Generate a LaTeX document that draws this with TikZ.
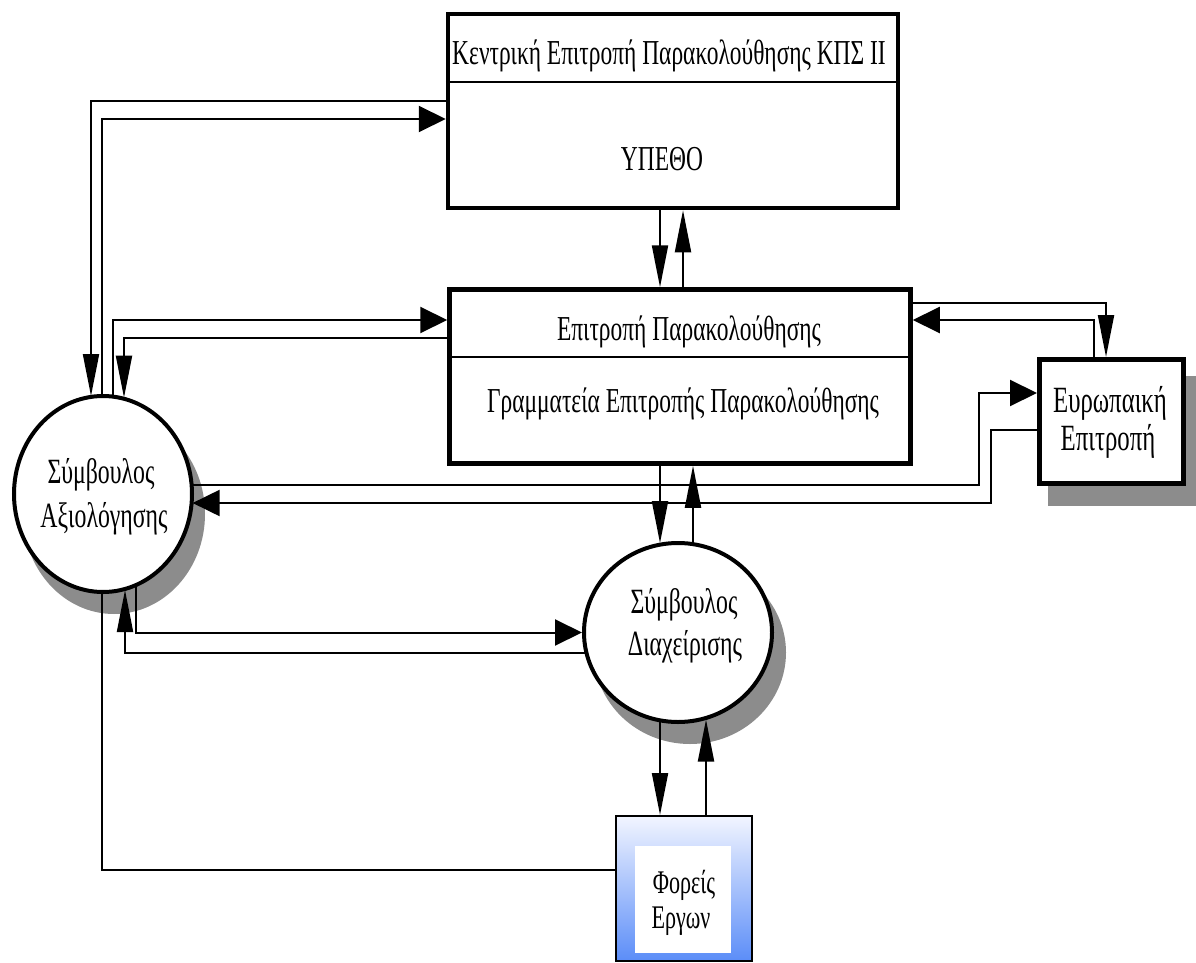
\documentclass[tikz,border=0pt]{standalone}
\usepackage{fontspec}
\newfontfamily\cf[FakeStretch=0.67]{Liberation Serif}
\usetikzlibrary{arrows.meta,shapes.geometric,calc}
\definecolor{shadowgray}{HTML}{8C8C8C}
\definecolor{blueA}{HTML}{F2F5FF}
\definecolor{blueB}{HTML}{5B8DF8}
\begin{document}
\begin{tikzpicture}[x=1pt,y=-1pt,
  conn/.style={line width=2pt},
  harr/.style={-{Triangle[length=27pt,width=26pt]}},
  varr/.style={-{Triangle[length=42pt,width=16pt]}},
  box/.style={draw, rectangle, line width=4.5pt, fill=white, inner sep=0pt},
  oval/.style={draw, ellipse, line width=4pt, fill=white, inner sep=0pt},
  shadeov/.style={ellipse, fill=shadowgray, inner sep=0pt},
  lbl/.style={anchor=base, inner sep=0pt, font=\cf\fontsize{35}{40}\selectfont},
  lblc/.style={anchor=base, inner sep=0pt, font=\cf\fontsize{35.5}{40}\selectfont},
  lble/.style={anchor=base, inner sep=0pt, font=\cf\fontsize{37}{42}\selectfont},
  lblf/.style={anchor=base, inner sep=0pt, font=\cf\fontsize{33}{38}\selectfont},
]
\useasboundingbox (0,0) rectangle (1196,963);

% shadows
\node[shadeov, minimum width=182pt, minimum height=200pt] (sash) at (114,514) {};
\node[shadeov, minimum width=192pt, minimum height=183pt] (sdsh) at (690,652.5) {};
\node[fill=shadowgray, rectangle, inner sep=0pt, minimum width=148pt, minimum height=130pt] (eesh) at (1122,441) {};

% boxes
\node[box, minimum width=450pt, minimum height=194pt] (cep) at (673,111) {};
\node[box, minimum width=461pt, minimum height=174pt] (ep) at (680,376.5) {};
\node[box, line width=5pt, minimum width=144pt, minimum height=124pt] (ee) at (1111.5,421.5) {};
\node[oval, minimum width=178pt, minimum height=196pt] (sa) at (103,494) {};
\node[oval, minimum width=188pt, minimum height=179pt] (sd) at (678,632.5) {};
\node[draw, rectangle, line width=2pt, top color=blueA, bottom color=blueB,
      minimum width=136pt, minimum height=145pt, inner sep=0pt] (fe) at (684,888.5) {};
\node[fill=white, rectangle, minimum width=96pt, minimum height=107pt, inner sep=0pt] (fein) at (683,899.5) {};

% dividers
\draw[line width=2pt] (cep.west |- 0,82) -- (cep.east |- 0,82);
\draw[line width=2pt] (ep.west |- 0,357) -- (ep.east |- 0,357);

% connectors
\draw[conn,varr] (cep.west |- 0,101) -| ($(sa.center)+(-12,-98)$);
\draw[conn,harr] ($(sa.center)+(-1,-99)$) |- (cep.west |- 0,119);
\draw[conn,harr] ($(sa.center)+(10,-98.4)$) |- (ep.west |- 0,320);
\draw[conn,varr] (ep.west |- 0,338) -| ($(sa.center)+(21,-96.3)$);
\draw[conn,varr] (cep.south -| 660,0) -- (ep.north -| 660,0);
\draw[conn,varr] (ep.north -| 683,0) -- (cep.south -| 683,0);
\draw[conn,varr] (ep.south -| 660,0) -- ($(sd.center)+(-18,-89.4)$);
\draw[conn,varr] ($(sd.center)+(15,-90)$) -- (ep.south -| 693,0);
\draw[conn,varr] (ep.east |- 0,303) -| (ee.north -| 1106,0);
\draw[conn,harr] (ee.north -| 1094,0) |- (ep.east |- 0,320);
\draw[conn,harr] ($(sa.center)+(89.6,-9)$) -- (979,485) -- (979,393) -- (ee.west |- 0,393);
\draw[conn,harr] (ee.west |- 0,430) -- (991,430) -- (991,503) -- ($(sa.center)+(89.6,9)$);
\draw[conn,harr] ($(sa.center)+(33,92)$) |- (sd.west);
\draw[conn,varr] ($(sd.center)+(-92.7,20)$) -| ($(sa.center)+(22,96)$);
\draw[conn] ($(sa.center)+(-1,99)$) |- (fe.west |- 0,870);
\draw[conn,varr] ($(sd.center)+(-18,89.4)$) -- (fe.north -| 660,0);
\draw[conn,varr] (fe.north -| 706,0) -- ($(sd.center)+(28,87)$);

% texts
\node[lbl] (cept1) at (669,65) {Κεντρική Επιτροπή Παρακολούθησης ΚΠΣ ΙΙ};
\node[lbl] (cept2) at (662,170) {ΥΠΕΘΟ};
\node[lbl] (ept1) at (689,340) {Επιτροπή Παρακολούθησης};
\node[lbl] (ept2) at (683,412) {Γραμματεία Επιτροπής Παρακολούθησης};
\node[lblc] (sat1) at (101,483) {Σύμβουλος};
\node[lblc] (sat2) at (104,527) {Αξιολόγησης};
\node[lblc] (sdt1) at (684,613) {Σύμβουλος};
\node[lblc] (sdt2) at (685,655) {Διαχείρισης};
\node[lble] (eet1) at (1110,412) {Ευρωπαική};
\node[lble] (eet2) at (1108,450) {Επιτροπή};
\node[lblf] (fet1) at (684,893) {Φορείς};
\node[lblf] (fet2) at (681,928) {Εργων};
\end{tikzpicture}
\end{document}
